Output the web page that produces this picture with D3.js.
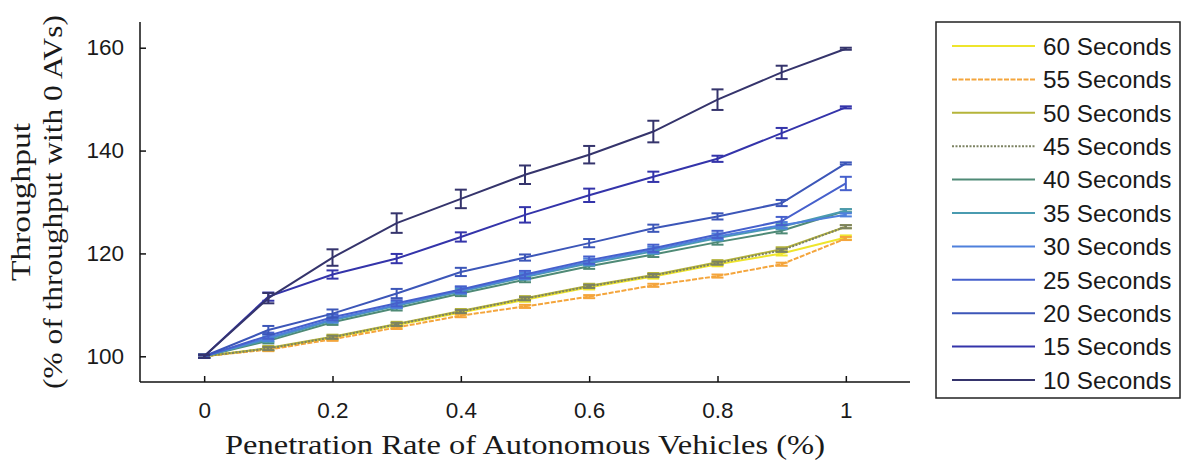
<!DOCTYPE html>
<html>
<head>
<meta charset="utf-8">
<script src="https://cdn.jsdelivr.net/npm/d3@7"></script>
<style>
  html, body { margin: 0; padding: 0; background: #fff; }
  svg { display: block; }
</style>
</head>
<body>
<svg id="chart" width="1183" height="466"></svg>
<script>
// ---- data ----
const penetration = [0, 0.1, 0.2, 0.3, 0.4, 0.5, 0.6, 0.7, 0.8, 0.9, 1.0];
const seriesNames = ["60 Seconds", "55 Seconds", "50 Seconds", "45 Seconds", "40 Seconds", "35 Seconds",
                     "30 Seconds", "25 Seconds", "20 Seconds", "15 Seconds", "10 Seconds"];
const seriesColors = ["#eee52c", "#f4a53c", "#b5b43a", "#7c8262", "#4f8a76", "#4a9bb0",
                      "#4f80dc", "#4660cc", "#3c56b8", "#3434aa", "#35346c"];
const seriesDash = [null, "5,1.5", null, "2,1.5", null, null, null, null, null, null, null];

const s60 = [100, 101.5, 103.6, 106.1, 108.5, 111.0, 113.4, 115.5, 117.9, 120.0, 123.1];
const s55 = [100, 101.3, 103.3, 105.6, 107.9, 109.7, 111.6, 113.8, 115.6, 117.9, 122.9];
const s50 = [100, 101.6, 103.8, 106.3, 108.8, 111.3, 113.7, 115.8, 118.3, 120.8, 125.2];
const s45 = [100, 101.5, 103.7, 106.2, 108.7, 111.2, 113.6, 115.7, 118.1, 120.6, 125.2];
const s40 = [100, 103.0, 106.6, 109.4, 112.2, 114.9, 117.5, 119.8, 122.2, 124.4, 128.3];
const s35 = [100, 103.3, 107.0, 109.8, 112.6, 115.4, 118.1, 120.4, 123.0, 125.2, 128.3];
const s30 = [100, 103.6, 107.2, 110.0, 112.8, 115.6, 118.4, 120.7, 123.3, 125.5, 127.5];
const s25 = [100, 104.0, 107.6, 110.3, 113.0, 115.9, 118.7, 121.0, 123.7, 126.3, 133.6];
const s20 = [100, 105.1, 108.3, 112.2, 116.4, 119.2, 122.0, 124.9, 127.2, 129.8, 137.5];
const s15 = [100, 111.6, 115.9, 119.0, 123.2, 127.5, 131.3, 134.9, 138.4, 143.4, 148.4];
const s10 = [100, 111.3, 119.2, 125.9, 130.6, 135.3, 139.2, 143.7, 149.9, 155.2, 159.8];

const e60 = [0.3, 0.4, 0.4, 0.4, 0.4, 0.4, 0.4, 0.4, 0.4, 0.4, 0.4];
const e55 = [0.3, 0.3, 0.3, 0.3, 0.3, 0.3, 0.3, 0.3, 0.3, 0.3, 0.3];
const e50 = [0.3, 0.4, 0.4, 0.4, 0.4, 0.4, 0.4, 0.4, 0.4, 0.4, 0.3];
const e45 = [0.3, 0.3, 0.3, 0.3, 0.3, 0.3, 0.3, 0.3, 0.3, 0.3, 0.3];
const e40 = [0.3, 0.5, 0.5, 0.5, 0.5, 0.5, 0.5, 0.5, 0.5, 0.5, 0.3];
const e35 = [0.3, 0.5, 0.5, 0.5, 0.5, 0.5, 0.5, 0.5, 0.5, 0.5, 0.3];
const e30 = [0.3, 0.6, 0.6, 0.6, 0.6, 0.6, 0.6, 0.6, 0.6, 0.6, 0.3];
const e25 = [0.3, 0.6, 0.6, 0.6, 0.6, 0.7, 0.7, 0.7, 0.7, 0.8, 1.3];
const e20 = [0.3, 0.8, 0.8, 0.9, 0.8, 0.6, 0.8, 0.7, 0.6, 0.6, 0.2];
const e15 = [0.3, 0.8, 0.8, 0.9, 0.9, 1.5, 1.3, 1.0, 0.6, 1.0, 0.2];
const e10 = [0.3, 1.0, 1.6, 1.9, 1.8, 1.8, 1.7, 2.1, 2.0, 1.3, 0.2];

const seriesValues = [s60, s55, s50, s45, s40, s35, s30, s25, s20, s15, s10];
const seriesErrors = [e60, e55, e50, e45, e40, e35, e30, e25, e20, e15, e10];

const xTicks = [0, 0.2, 0.4, 0.6, 0.8, 1];
const xTickLabels = ["0", "0.2", "0.4", "0.6", "0.8", "1"];
const yTicks = [100, 120, 140, 160];
const xTitle = "Penetration Rate of Autonomous Vehicles (%)";
const yTitle1 = "Throughput";
const yTitle2 = "(% of throughput with 0 AVs)";

// ---- layout ----
const svg = d3.select("#chart");
const plotLeft = 140, plotRight = 910, plotTop = 22, plotBottom = 382;

const x = d3.scaleLinear().domain([-0.1, 1.1]).range([plotLeft, plotRight]);
const y = d3.scaleLinear().domain([95, 165]).range([plotBottom, plotTop]);

const series = seriesNames.map((name, i) => ({
  name,
  color: seriesColors[i],
  dash: seriesDash[i],
  points: penetration.map((p, j) => ({ p, v: seriesValues[i][j], e: seriesErrors[i][j] }))
}));

const plot = svg.append("g");
const line = d3.line().x(d => x(d.p)).y(d => y(d.v));
const capHalf = 6;

series.forEach(s => {
  const g = plot.append("g");
  g.append("path")
    .datum(s.points)
    .attr("fill", "none")
    .attr("stroke", s.color)
    .attr("stroke-width", 2)
    .attr("stroke-dasharray", s.dash)
    .attr("d", line);
  const eb = g.selectAll("g.eb").data(s.points).enter().append("g").attr("class", "eb");
  eb.append("line")
    .attr("x1", d => x(d.p)).attr("x2", d => x(d.p))
    .attr("y1", d => y(d.v - d.e)).attr("y2", d => y(d.v + d.e))
    .attr("stroke", s.color).attr("stroke-width", 2);
  eb.append("line")
    .attr("x1", d => x(d.p) - capHalf).attr("x2", d => x(d.p) + capHalf)
    .attr("y1", d => y(d.v - d.e)).attr("y2", d => y(d.v - d.e))
    .attr("stroke", s.color).attr("stroke-width", 2);
  eb.append("line")
    .attr("x1", d => x(d.p) - capHalf).attr("x2", d => x(d.p) + capHalf)
    .attr("y1", d => y(d.v + d.e)).attr("y2", d => y(d.v + d.e))
    .attr("stroke", s.color).attr("stroke-width", 2);
});

// ---- axes ----
const xAxis = d3.axisBottom(x).tickValues(xTicks).tickFormat((d, i) => xTickLabels[i])
  .tickSizeInner(-6).tickSizeOuter(0).tickPadding(20);
const gx = svg.append("g").attr("transform", `translate(0,${plotBottom})`).call(xAxis);
gx.select(".domain").attr("stroke", "#111").attr("stroke-width", 1.5)
  .attr("d", `M${plotLeft},0H${plotRight}`);
gx.selectAll(".tick line").attr("stroke", "#111").attr("stroke-width", 1.5);
gx.selectAll(".tick text").attr("font-family", "'Liberation Sans', Arial, sans-serif")
  .attr("font-size", 22.5).attr("fill", "#1a1a1a").attr("dy", "0.71em");

const yAxis = d3.axisLeft(y).tickValues(yTicks).tickFormat(d3.format("d"))
  .tickSizeInner(-6).tickSizeOuter(0).tickPadding(16);
const gy = svg.append("g").attr("transform", `translate(${plotLeft},0)`).call(yAxis);
gy.select(".domain").attr("stroke", "#111").attr("stroke-width", 1.5)
  .attr("d", `M0,${plotTop}V${plotBottom}`);
gy.selectAll(".tick line").attr("stroke", "#111").attr("stroke-width", 1.5);
gy.selectAll(".tick text").attr("font-family", "'Liberation Sans', Arial, sans-serif")
  .attr("font-size", 22.5).attr("fill", "#1a1a1a");

// ---- titles ----
svg.append("text")
  .attr("x", 525).attr("y", 454)
  .attr("text-anchor", "middle")
  .attr("font-family", "'Liberation Serif', 'Times New Roman', serif")
  .attr("font-size", 27).attr("fill", "#1a1a1a")
  .attr("textLength", 600).attr("lengthAdjust", "spacingAndGlyphs")
  .text(xTitle);

const yt = svg.append("g").attr("transform", "translate(0,202) rotate(-90)");
yt.append("text")
  .attr("x", 0).attr("y", 30)
  .attr("text-anchor", "middle")
  .attr("font-family", "'Liberation Serif', 'Times New Roman', serif")
  .attr("font-size", 27).attr("fill", "#1a1a1a")
  .attr("textLength", 158).attr("lengthAdjust", "spacingAndGlyphs")
  .text(yTitle1);
yt.append("text")
  .attr("x", 0).attr("y", 62)
  .attr("text-anchor", "middle")
  .attr("font-family", "'Liberation Serif', 'Times New Roman', serif")
  .attr("font-size", 27).attr("fill", "#1a1a1a")
  .attr("textLength", 374).attr("lengthAdjust", "spacingAndGlyphs")
  .text(yTitle2);

// ---- legend ----
const legend = svg.append("g");
legend.append("rect")
  .attr("x", 936).attr("y", 22).attr("width", 244).attr("height", 376)
  .attr("fill", "#fff").attr("stroke", "#222").attr("stroke-width", 1.5);
const legY = d3.scalePoint().domain(seriesNames).range([46, 380]);
const items = legend.selectAll("g.item").data(series).enter().append("g").attr("class", "item")
  .attr("transform", d => `translate(0,${legY(d.name)})`);
items.append("line")
  .attr("x1", 952).attr("x2", 1035).attr("y1", 0).attr("y2", 0)
  .attr("stroke", d => d.color).attr("stroke-width", 2)
  .attr("stroke-dasharray", d => d.dash);
items.append("text")
  .attr("x", 1043).attr("y", 0).attr("dy", "0.36em")
  .attr("font-family", "'Liberation Sans', Arial, sans-serif")
  .attr("font-size", 24.3).attr("fill", "#1a1a1a")
  .text(d => d.name);
</script>
</body>
</html>
